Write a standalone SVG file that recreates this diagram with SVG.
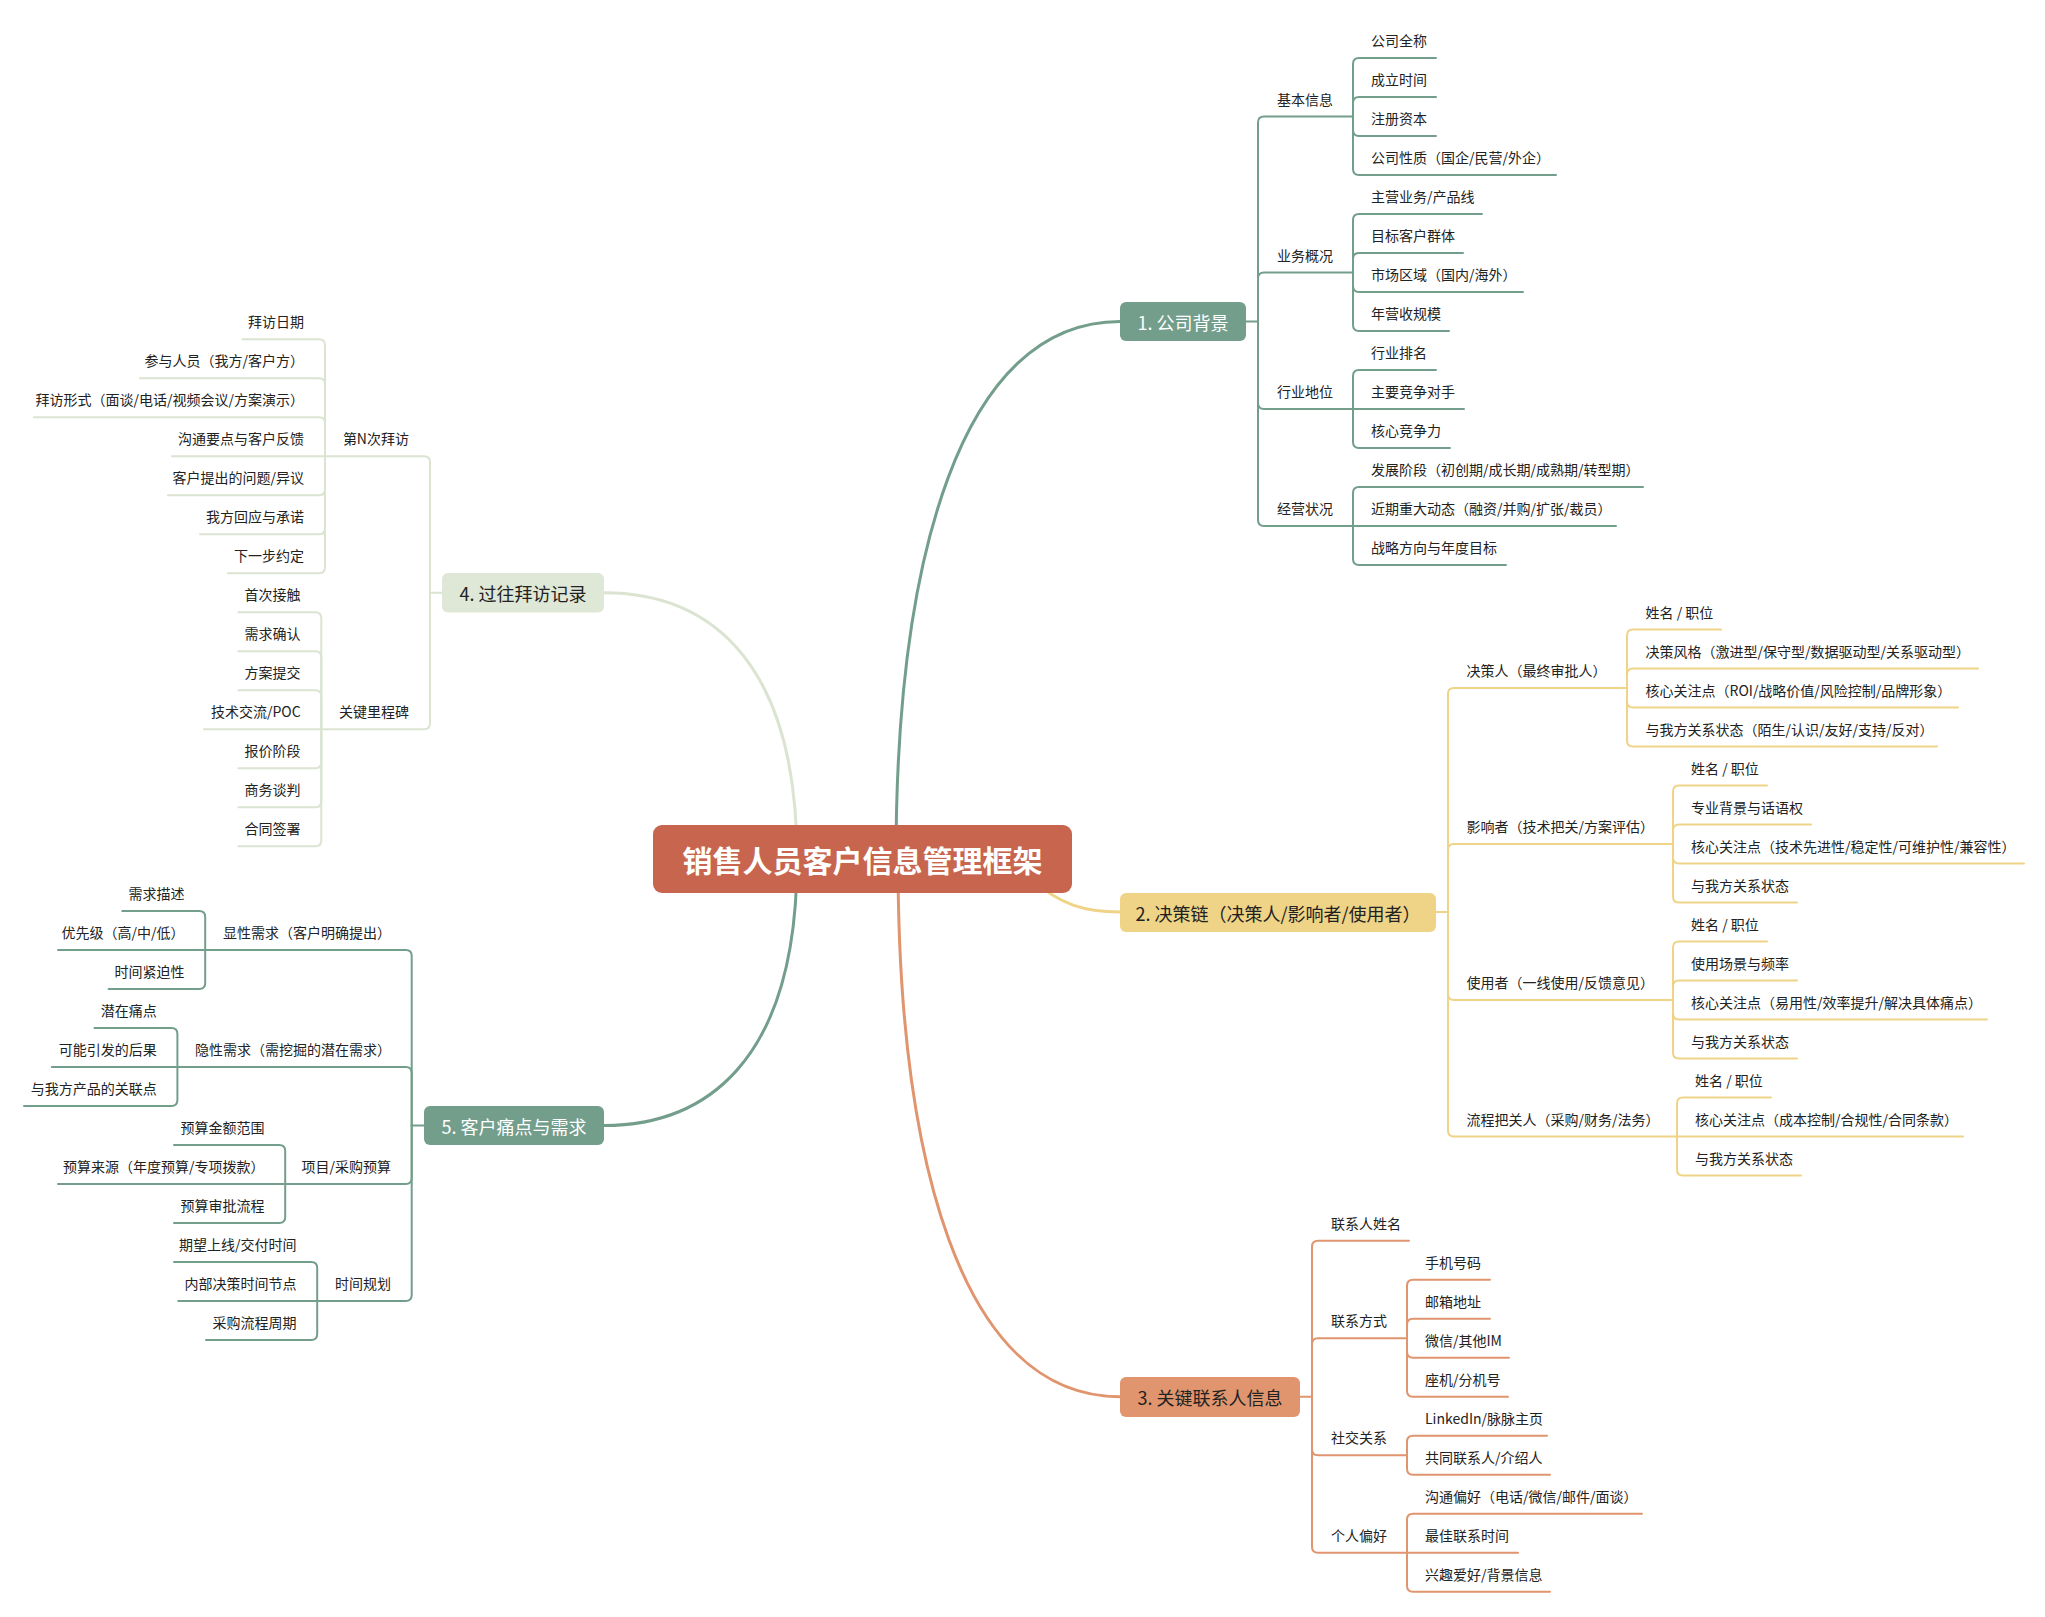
<svg xmlns="http://www.w3.org/2000/svg" width="2045" height="1617" viewBox="0 0 2045 1617">
<style>
.ln{fill:none;stroke-width:2;stroke-linecap:round;stroke-linejoin:round}
.mc{fill:none;stroke-width:3;stroke-linecap:round}
.c1{stroke:#739e8c}.c2{stroke:#efd386}.c3{stroke:#e0956e}.c4{stroke:#dbe4d1}.c5{stroke:#739e8c}
.t{font-family:"Noto Sans CJK SC","Noto Sans",sans-serif;font-size:14px;fill:#222}
.e{text-anchor:end}
.nt{font-family:"Noto Sans CJK SC","Noto Sans",sans-serif;font-size:18px;text-anchor:middle;dominant-baseline:central}
.w{fill:#fff}.d{fill:#222}
</style>
<rect width="2045" height="1617" fill="#fff"/>
<g id="connectors">
<!-- main curves -->
<path class="mc c1" d="M896,859 C896,560 960,321.5 1120,321.5"/>
<path class="mc c2" d="M1030,878 C1060,905 1085,912 1120,912"/>
<path class="mc c3" d="M898,859 C898,1158 960,1396.7 1120,1396.7"/>
<path class="mc c4" d="M604,592.8 C700,592.8 797,650 797,859"/>
<path class="mc c5" d="M604,1125.5 C700,1125.5 797,1068 797,859"/>
<!-- section 1 -->
<g class="ln c1">
<path d="M1246,321.5 H1258"/>
<path d="M1258,321.5 V122.5 Q1258,116.5 1264,116.5 H1353"/>
<path d="M1258,321.5 V278.5 Q1258,272.5 1264,272.5 H1353"/>
<path d="M1258,321.5 V403 Q1258,409 1264,409 H1353"/>
<path d="M1258,321.5 V520 Q1258,526 1264,526 H1353"/>
<path d="M1353,116.5 V64 Q1353,58 1359,58 H1436"/>
<path d="M1353,116.5 V103 Q1353,97 1359,97 H1436"/>
<path d="M1353,116.5 V130 Q1353,136 1359,136 H1436"/>
<path d="M1353,116.5 V169 Q1353,175 1359,175 H1556"/>
<path d="M1353,272.5 V220 Q1353,214 1359,214 H1482"/>
<path d="M1353,272.5 V259 Q1353,253 1359,253 H1463"/>
<path d="M1353,272.5 V286 Q1353,292 1359,292 H1523"/>
<path d="M1353,272.5 V325 Q1353,331 1359,331 H1449"/>
<path d="M1353,409 V376 Q1353,370 1359,370 H1436"/>
<path d="M1353,409 H1464"/>
<path d="M1353,409 V442 Q1353,448 1359,448 H1450"/>
<path d="M1353,526 V493 Q1353,487 1359,487 H1643"/>
<path d="M1353,526 H1616"/>
<path d="M1353,526 V559 Q1353,565 1359,565 H1506"/>
</g>
<!-- section 2 -->
<g class="ln c2">
<path d="M1436,912 H1448"/>
<path d="M1448,912 V694 Q1448,688 1454,688 H1627"/>
<path d="M1448,912 V850 Q1448,844 1454,844 H1673"/>
<path d="M1448,912 V994 Q1448,1000 1454,1000 H1673"/>
<path d="M1448,912 V1130.5 Q1448,1136.5 1454,1136.5 H1677"/>
<path d="M1627,688 V635.5 Q1627,629.5 1633,629.5 H1721"/>
<path d="M1627,688 V674.5 Q1627,668.5 1633,668.5 H1978"/>
<path d="M1627,688 V701.5 Q1627,707.5 1633,707.5 H1958"/>
<path d="M1627,688 V740.5 Q1627,746.5 1633,746.5 H1937"/>
<path d="M1673,844 V791.5 Q1673,785.5 1679,785.5 H1767"/>
<path d="M1673,844 V830.5 Q1673,824.5 1679,824.5 H1811"/>
<path d="M1673,844 V857.5 Q1673,863.5 1679,863.5 H2024"/>
<path d="M1673,844 V896.5 Q1673,902.5 1679,902.5 H1797"/>
<path d="M1673,1000 V947.5 Q1673,941.5 1679,941.5 H1767"/>
<path d="M1673,1000 V986.5 Q1673,980.5 1679,980.5 H1797"/>
<path d="M1673,1000 V1013.5 Q1673,1019.5 1679,1019.5 H1987"/>
<path d="M1673,1000 V1052.5 Q1673,1058.5 1679,1058.5 H1797"/>
<path d="M1677,1136.5 V1103.5 Q1677,1097.5 1683,1097.5 H1771"/>
<path d="M1677,1136.5 H1963"/>
<path d="M1677,1136.5 V1169.5 Q1677,1175.5 1683,1175.5 H1801"/>
</g>
<!-- section 3 -->
<g class="ln c3">
<path d="M1300,1396.7 H1312"/>
<path d="M1312,1396.7 V1246.7 Q1312,1240.7 1318,1240.7 H1409"/>
<path d="M1312,1396.7 V1344.2 Q1312,1338.2 1318,1338.2 H1407"/>
<path d="M1312,1396.7 V1449.2 Q1312,1455.2 1318,1455.2 H1407"/>
<path d="M1312,1396.7 V1546.7 Q1312,1552.7 1318,1552.7 H1407"/>
<path d="M1407,1338.2 V1285.7 Q1407,1279.7 1413,1279.7 H1490"/>
<path d="M1407,1338.2 V1324.7 Q1407,1318.7 1413,1318.7 H1490"/>
<path d="M1407,1338.2 V1351.7 Q1407,1357.7 1413,1357.7 H1509"/>
<path d="M1407,1338.2 V1390.7 Q1407,1396.7 1413,1396.7 H1508"/>
<path d="M1407,1455.2 V1441.7 Q1407,1435.7 1413,1435.7 H1547"/>
<path d="M1407,1455.2 V1468.7 Q1407,1474.7 1413,1474.7 H1550"/>
<path d="M1407,1552.7 V1519.7 Q1407,1513.7 1413,1513.7 H1642"/>
<path d="M1407,1552.7 H1518"/>
<path d="M1407,1552.7 V1585.7 Q1407,1591.7 1413,1591.7 H1550"/>
</g>
<!-- section 4 -->
<g class="ln c4">
<path d="M442,592.8 H430"/>
<path d="M430,592.8 V462.3 Q430,456.3 424,456.3 H325"/>
<path d="M430,592.8 V723.3 Q430,729.3 424,729.3 H321.3"/>
<path d="M325,456.3 V345.3 Q325,339.3 319,339.3 H242.5"/>
<path d="M325,456.3 V384.3 Q325,378.3 319,378.3 H140"/>
<path d="M325,456.3 V423.3 Q325,417.3 319,417.3 H34"/>
<path d="M325,456.3 H172"/>
<path d="M325,456.3 V489.3 Q325,495.3 319,495.3 H168"/>
<path d="M325,456.3 V528.3 Q325,534.3 319,534.3 H200"/>
<path d="M325,456.3 V567.3 Q325,573.3 319,573.3 H228"/>
<path d="M321.3,729.3 V618.3 Q321.3,612.3 315.3,612.3 H238.4"/>
<path d="M321.3,729.3 V657.3 Q321.3,651.3 315.3,651.3 H238.4"/>
<path d="M321.3,729.3 V696.3 Q321.3,690.3 315.3,690.3 H238.4"/>
<path d="M321.3,729.3 H204"/>
<path d="M321.3,729.3 V762.3 Q321.3,768.3 315.3,768.3 H238.4"/>
<path d="M321.3,729.3 V801.3 Q321.3,807.3 315.3,807.3 H238.4"/>
<path d="M321.3,729.3 V840.3 Q321.3,846.3 315.3,846.3 H238.4"/>
</g>
<!-- section 5 -->
<g class="ln c5">
<path d="M424,1125.5 H411.7"/>
<path d="M411.7,1125.5 V956 Q411.7,950 405.7,950 H205.2"/>
<path d="M411.7,1125.5 V1073 Q411.7,1067 405.7,1067 H177.4"/>
<path d="M411.7,1125.5 V1178 Q411.7,1184 405.7,1184 H285.2"/>
<path d="M411.7,1125.5 V1295 Q411.7,1301 405.7,1301 H317.2"/>
<path d="M205.2,950 V917 Q205.2,911 199.2,911 H122.3"/>
<path d="M205.2,950 H58"/>
<path d="M205.2,950 V983 Q205.2,989 199.2,989 H108.6"/>
<path d="M177.4,1067 V1034 Q177.4,1028 171.4,1028 H94.5"/>
<path d="M177.4,1067 H51.8"/>
<path d="M177.4,1067 V1100 Q177.4,1106 171.4,1106 H24"/>
<path d="M285.2,1184 V1151 Q285.2,1145 279.2,1145 H174"/>
<path d="M285.2,1184 H58"/>
<path d="M285.2,1184 V1217 Q285.2,1223 279.2,1223 H174"/>
<path d="M317.2,1301 V1268 Q317.2,1262 311.2,1262 H174"/>
<path d="M317.2,1301 H178.3"/>
<path d="M317.2,1301 V1334 Q317.2,1340 311.2,1340 H206"/>
</g>
</g>

<!-- central node -->
<g id="root">
<rect x="653" y="825" width="419" height="68" rx="9" fill="#c8654e"/>
<text x="862.5" y="859" font-family="'Noto Sans CJK SC','Noto Sans',sans-serif" font-size="30" font-weight="bold" fill="#fff" text-anchor="middle" dominant-baseline="central">销售人员客户信息管理框架</text>
</g>

<!-- main nodes -->
<g id="n1"><rect x="1120" y="302" width="126" height="39" rx="6" fill="#739e8c"/><text class="nt w" x="1183" y="321.5">1. 公司背景</text></g>
<g id="n2"><rect x="1120" y="893" width="316" height="39" rx="6" fill="#efd386"/><text class="nt d" x="1278" y="912.5">2. 决策链（决策人/影响者/使用者）</text></g>
<g id="n3"><rect x="1120" y="1377" width="180" height="40" rx="6" fill="#e0956e"/><text class="nt d" x="1210" y="1397">3. 关键联系人信息</text></g>
<g id="n4"><rect x="442" y="573" width="162" height="39.5" rx="6" fill="#dfe7d6"/><text class="nt d" x="523" y="592.8">4. 过往拜访记录</text></g>
<g id="n5"><rect x="424" y="1106" width="180" height="39" rx="6" fill="#739e8c"/><text class="nt w" x="514" y="1125.5">5. 客户痛点与需求</text></g>

<!-- section 1 subtopics -->
<g id="s1-sub" class="t">
<g id="s1-a"><text x="1277" y="104.5">基本信息</text></g>
<g id="s1-b"><text x="1277" y="260.5">业务概况</text></g>
<g id="s1-c"><text x="1277" y="397">行业地位</text></g>
<g id="s1-d"><text x="1277" y="514">经营状况</text></g>
</g>
<g id="s1-leaves" class="t">
<g id="s1-l1"><text x="1371" y="46">公司全称</text></g>
<g id="s1-l2"><text x="1371" y="85">成立时间</text></g>
<g id="s1-l3"><text x="1371" y="124">注册资本</text></g>
<g id="s1-l4"><text x="1371" y="163">公司性质（国企/民营/外企）</text></g>
<g id="s1-l5"><text x="1371" y="202">主营业务/产品线</text></g>
<g id="s1-l6"><text x="1371" y="241">目标客户群体</text></g>
<g id="s1-l7"><text x="1371" y="280">市场区域（国内/海外）</text></g>
<g id="s1-l8"><text x="1371" y="319">年营收规模</text></g>
<g id="s1-l9"><text x="1371" y="358">行业排名</text></g>
<g id="s1-l10"><text x="1371" y="397">主要竞争对手</text></g>
<g id="s1-l11"><text x="1371" y="436">核心竞争力</text></g>
<g id="s1-l12"><text x="1371" y="475">发展阶段（初创期/成长期/成熟期/转型期）</text></g>
<g id="s1-l13"><text x="1371" y="514">近期重大动态（融资/并购/扩张/裁员）</text></g>
<g id="s1-l14"><text x="1371" y="553">战略方向与年度目标</text></g>
</g>

<!-- section 2 -->
<g id="s2-sub" class="t">
<g id="s2-a"><text x="1466.5" y="676">决策人（最终审批人）</text></g>
<g id="s2-b"><text x="1466.5" y="832">影响者（技术把关/方案评估）</text></g>
<g id="s2-c"><text x="1466.5" y="988">使用者（一线使用/反馈意见）</text></g>
<g id="s2-d"><text x="1466.5" y="1124.5">流程把关人（采购/财务/法务）</text></g>
</g>
<g id="s2-leaves" class="t">
<g id="s2-l1"><text x="1645.5" y="617.5">姓名 / 职位</text></g>
<g id="s2-l2"><text x="1645.5" y="656.5">决策风格（激进型/保守型/数据驱动型/关系驱动型）</text></g>
<g id="s2-l3"><text x="1645.5" y="695.5">核心关注点（ROI/战略价值/风险控制/品牌形象）</text></g>
<g id="s2-l4"><text x="1645.5" y="734.5">与我方关系状态（陌生/认识/友好/支持/反对）</text></g>
<g id="s2-l5"><text x="1691" y="773.5">姓名 / 职位</text></g>
<g id="s2-l6"><text x="1691" y="812.5">专业背景与话语权</text></g>
<g id="s2-l7"><text x="1691" y="851.5">核心关注点（技术先进性/稳定性/可维护性/兼容性）</text></g>
<g id="s2-l8"><text x="1691" y="890.5">与我方关系状态</text></g>
<g id="s2-l9"><text x="1691" y="929.5">姓名 / 职位</text></g>
<g id="s2-l10"><text x="1691" y="968.5">使用场景与频率</text></g>
<g id="s2-l11"><text x="1691" y="1007.5">核心关注点（易用性/效率提升/解决具体痛点）</text></g>
<g id="s2-l12"><text x="1691" y="1046.5">与我方关系状态</text></g>
<g id="s2-l13"><text x="1695" y="1085.5">姓名 / 职位</text></g>
<g id="s2-l14"><text x="1695" y="1124.5">核心关注点（成本控制/合规性/合同条款）</text></g>
<g id="s2-l15"><text x="1695" y="1163.5">与我方关系状态</text></g>
</g>

<!-- section 3 -->
<g id="s3-sub" class="t">
<g id="s3-a"><text x="1331" y="1228.7">联系人姓名</text></g>
<g id="s3-b"><text x="1331" y="1326.2">联系方式</text></g>
<g id="s3-c"><text x="1331" y="1443.2">社交关系</text></g>
<g id="s3-d"><text x="1331" y="1540.7">个人偏好</text></g>
</g>
<g id="s3-leaves" class="t">
<g id="s3-l1"><text x="1425" y="1267.7">手机号码</text></g>
<g id="s3-l2"><text x="1425" y="1306.7">邮箱地址</text></g>
<g id="s3-l3"><text x="1425" y="1345.7">微信/其他IM</text></g>
<g id="s3-l4"><text x="1425" y="1384.7">座机/分机号</text></g>
<g id="s3-l5"><text x="1425" y="1423.7">LinkedIn/脉脉主页</text></g>
<g id="s3-l6"><text x="1425" y="1462.7">共同联系人/介绍人</text></g>
<g id="s3-l7"><text x="1425" y="1501.7">沟通偏好（电话/微信/邮件/面谈）</text></g>
<g id="s3-l8"><text x="1425" y="1540.7">最佳联系时间</text></g>
<g id="s3-l9"><text x="1425" y="1579.7">兴趣爱好/背景信息</text></g>
</g>

<!-- section 4 -->
<g id="s4-sub" class="t e">
<g id="s4-a"><text x="409" y="444.3">第N次拜访</text></g>
<g id="s4-b"><text x="409" y="717.3">关键里程碑</text></g>
</g>
<g id="s4-leaves" class="t e">
<g id="s4-l1"><text x="304" y="327.3">拜访日期</text></g>
<g id="s4-l2"><text x="304" y="366.3">参与人员（我方/客户方）</text></g>
<g id="s4-l3"><text x="304" y="405.3">拜访形式（面谈/电话/视频会议/方案演示）</text></g>
<g id="s4-l4"><text x="304" y="444.3">沟通要点与客户反馈</text></g>
<g id="s4-l5"><text x="304" y="483.3">客户提出的问题/异议</text></g>
<g id="s4-l6"><text x="304" y="522.3">我方回应与承诺</text></g>
<g id="s4-l7"><text x="304" y="561.3">下一步约定</text></g>
<g id="s4-l8"><text x="300.6" y="600.3">首次接触</text></g>
<g id="s4-l9"><text x="300.6" y="639.3">需求确认</text></g>
<g id="s4-l10"><text x="300.6" y="678.3">方案提交</text></g>
<g id="s4-l11"><text x="300.6" y="717.3">技术交流/POC</text></g>
<g id="s4-l12"><text x="300.6" y="756.3">报价阶段</text></g>
<g id="s4-l13"><text x="300.6" y="795.3">商务谈判</text></g>
<g id="s4-l14"><text x="300.6" y="834.3">合同签署</text></g>
</g>

<!-- section 5 -->
<g id="s5-sub" class="t e">
<g id="s5-a"><text x="391" y="938">显性需求（客户明确提出）</text></g>
<g id="s5-b"><text x="391" y="1055">隐性需求（需挖掘的潜在需求）</text></g>
<g id="s5-c"><text x="391" y="1172">项目/采购预算</text></g>
<g id="s5-d"><text x="391" y="1289">时间规划</text></g>
</g>
<g id="s5-leaves" class="t e">
<g id="s5-l1"><text x="184.5" y="899">需求描述</text></g>
<g id="s5-l2"><text x="184.5" y="938">优先级（高/中/低）</text></g>
<g id="s5-l3"><text x="184.5" y="977">时间紧迫性</text></g>
<g id="s5-l4"><text x="156.7" y="1016">潜在痛点</text></g>
<g id="s5-l5"><text x="156.7" y="1055">可能引发的后果</text></g>
<g id="s5-l6"><text x="156.7" y="1094">与我方产品的关联点</text></g>
<g id="s5-l7"><text x="264.5" y="1133">预算金额范围</text></g>
<g id="s5-l8"><text x="264.5" y="1172">预算来源（年度预算/专项拨款）</text></g>
<g id="s5-l9"><text x="264.5" y="1211">预算审批流程</text></g>
<g id="s5-l10"><text x="296.5" y="1250">期望上线/交付时间</text></g>
<g id="s5-l11"><text x="296.5" y="1289">内部决策时间节点</text></g>
<g id="s5-l12"><text x="296.5" y="1328">采购流程周期</text></g>
</g>
</svg>
